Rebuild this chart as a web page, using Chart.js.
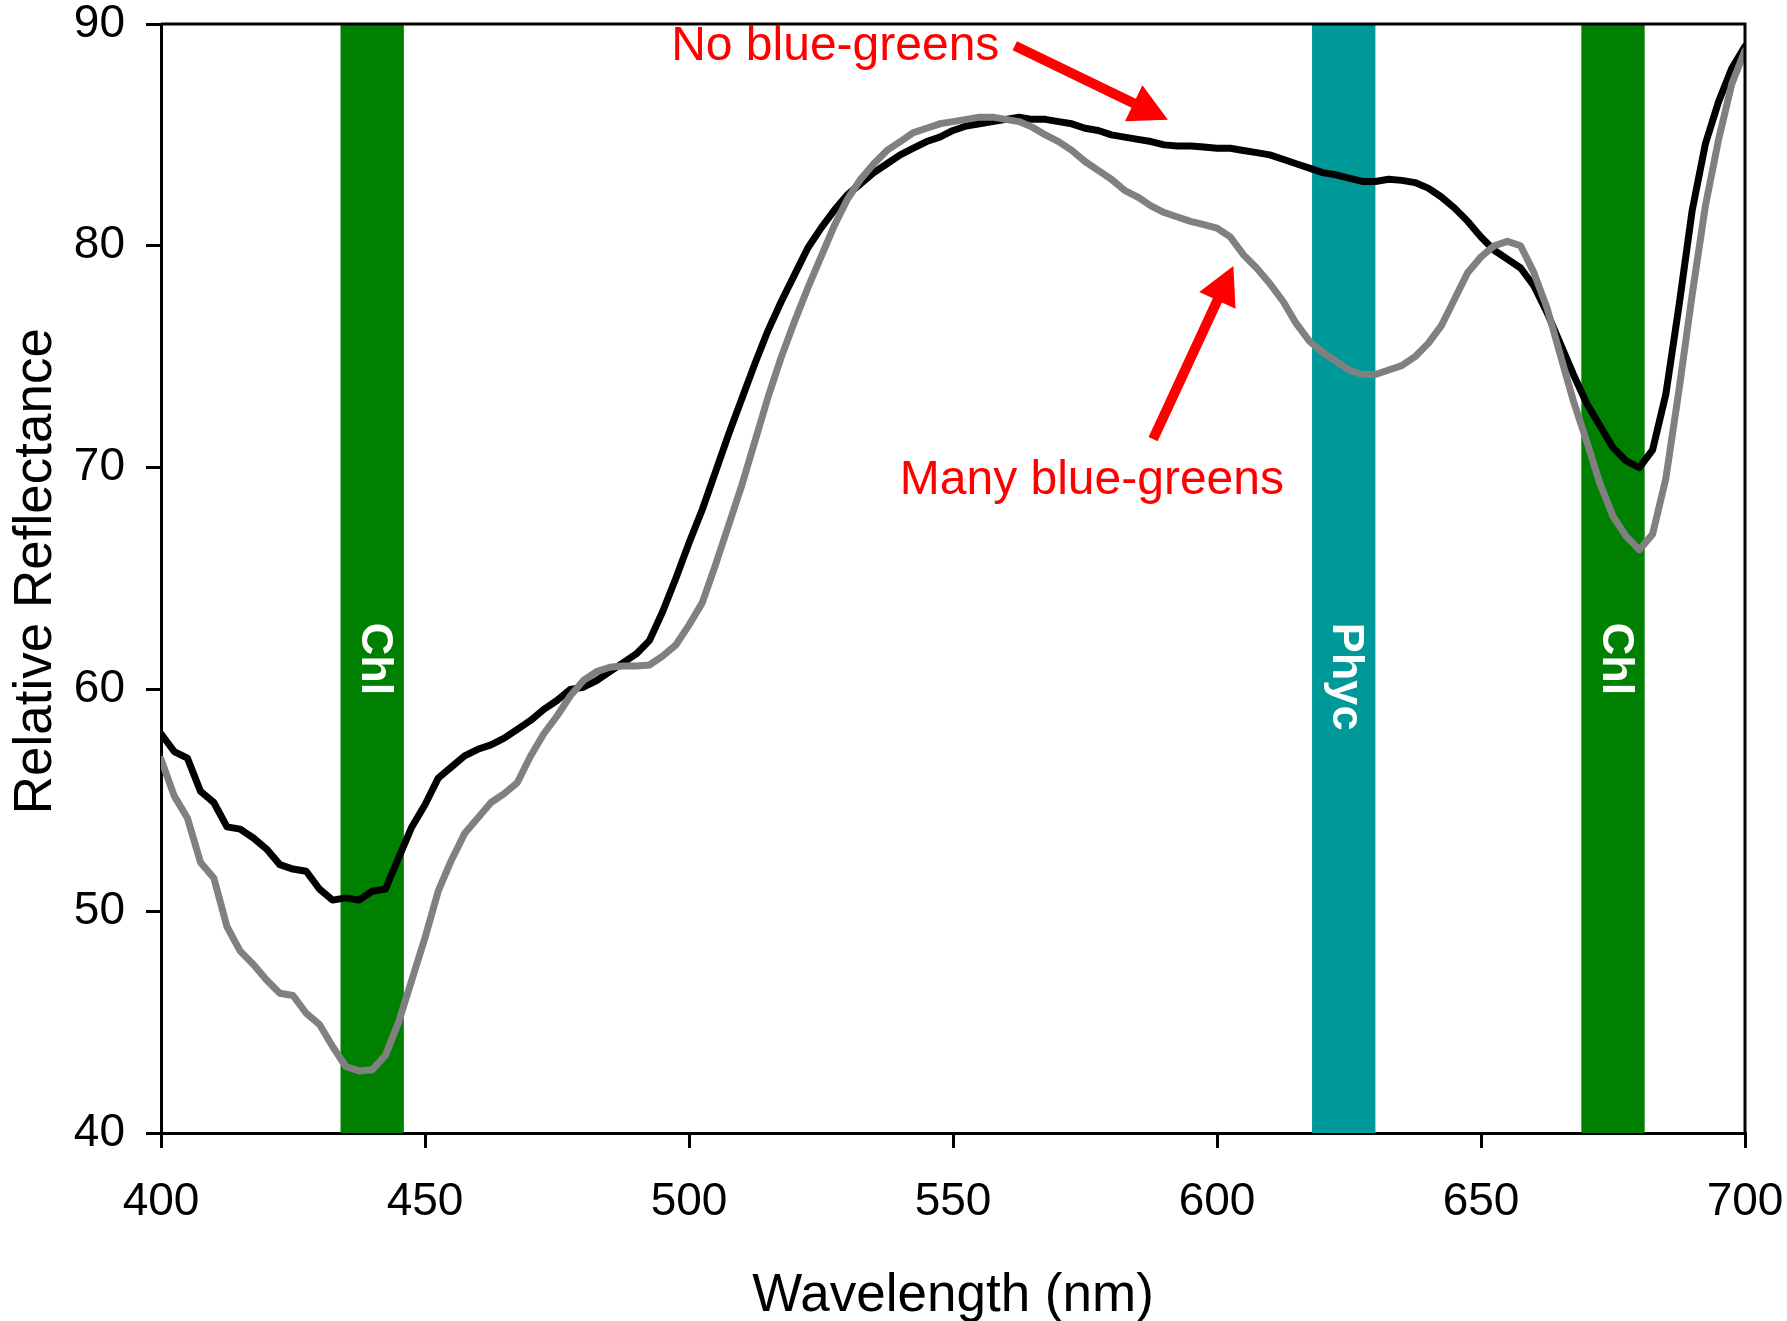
<!DOCTYPE html>
<html>
<head>
<meta charset="utf-8">
<script src="https://cdn.jsdelivr.net/npm/chart.js@4.4.1/dist/chart.umd.min.js"></script>
<style>
  html, body { margin: 0; padding: 0; background: #fff; }
  #wrap { width: 1787px; height: 1321px; position: relative; }
</style>
</head>
<body>
<div id="wrap"><canvas id="c"></canvas></div>
<script>
// ---- Data ----
const wavelengths = [
  400, 402.5, 405, 407.5, 410, 412.5, 415, 417.5, 420, 422.5,
  425, 427.5, 430, 432.5, 435, 437.5, 440, 442.5, 445, 447.5,
  450, 452.5, 455, 457.5, 460, 462.5, 465, 467.5, 470, 472.5,
  475, 477.5, 480, 482.5, 485, 487.5, 490, 492.5, 495, 497.5,
  500, 502.5, 505, 507.5, 510, 512.5, 515, 517.5, 520, 522.5,
  525, 527.5, 530, 532.5, 535, 537.5, 540, 542.5, 545, 547.5,
  550, 552.5, 555, 557.5, 560, 562.5, 565, 567.5, 570, 572.5,
  575, 577.5, 580, 582.5, 585, 587.5, 590, 592.5, 595, 597.5,
  600, 602.5, 605, 607.5, 610, 612.5, 615, 617.5, 620, 622.5,
  625, 627.5, 630, 632.5, 635, 637.5, 640, 642.5, 645, 647.5,
  650, 652.5, 655, 657.5, 660, 662.5, 665, 667.5, 670, 672.5,
  675, 677.5, 680, 682.5, 685, 687.5, 690, 692.5, 695, 697.5,
  700
];

const noBlueGreens = [
  58.0, 57.2, 56.9, 55.4, 54.9, 53.8, 53.7, 53.3, 52.8, 52.1,
  51.9, 51.8, 51.0, 50.5, 50.6, 50.5, 50.9, 51.0, 52.4, 53.8,
  54.8, 56.0, 56.5, 57.0, 57.3, 57.5, 57.8, 58.2, 58.6, 59.1,
  59.5, 60.0, 60.1, 60.4, 60.8, 61.2, 61.6, 62.2, 63.5, 65.0,
  66.6, 68.1, 69.8, 71.5, 73.1, 74.7, 76.2, 77.5, 78.7, 79.9,
  80.8, 81.6, 82.3, 82.8, 83.3, 83.7, 84.1, 84.4, 84.7, 84.9,
  85.2, 85.4, 85.5, 85.6, 85.7, 85.8, 85.7, 85.7, 85.6, 85.5,
  85.3, 85.2, 85.0, 84.9, 84.8, 84.7, 84.55, 84.5, 84.5, 84.45,
  84.4, 84.4, 84.3, 84.2, 84.1, 83.9, 83.7, 83.5, 83.3, 83.2,
  83.05, 82.9, 82.9, 83.0, 82.95, 82.85, 82.6, 82.2, 81.7, 81.1,
  80.4, 79.8, 79.4, 79.0, 78.2, 77.0, 75.6, 74.2, 72.9, 71.9,
  70.9, 70.3, 70.0, 70.8, 73.3, 77.3, 81.6, 84.6, 86.5, 88.0,
  89.0
];

const manyBlueGreens = [
  56.85, 55.2, 54.2, 52.2, 51.5, 49.3, 48.2, 47.6, 46.9, 46.3,
  46.2, 45.4, 44.9, 43.9, 43.0, 42.8, 42.85, 43.5, 45.0, 46.9,
  48.8, 50.9, 52.3, 53.5, 54.2, 54.9, 55.3, 55.8, 57.0, 58.0,
  58.8, 59.7, 60.4, 60.8, 61.0, 61.05, 61.05, 61.1, 61.5, 62.0,
  62.9, 63.9, 65.6, 67.4, 69.2, 71.2, 73.2, 75.0, 76.6, 78.1,
  79.5, 80.9, 82.1, 83.0, 83.7, 84.3, 84.7, 85.1, 85.3, 85.5,
  85.6, 85.7, 85.8, 85.8, 85.7, 85.6, 85.35, 85.0, 84.7, 84.3,
  83.8, 83.4, 83.0, 82.5, 82.2, 81.8, 81.5, 81.3, 81.1, 80.95,
  80.8, 80.4, 79.6, 79.0, 78.3, 77.5, 76.5, 75.7, 75.2, 74.8,
  74.4, 74.2, 74.2, 74.4, 74.6, 75.0, 75.6, 76.4, 77.6, 78.8,
  79.5, 80.0, 80.2, 80.0, 78.8, 77.2, 75.1, 73.0, 71.2, 69.3,
  67.8, 66.9, 66.3, 67.0, 69.5, 73.5, 77.8, 81.8, 84.8, 87.3,
  88.8
];

// Absorption bands (nm)
const bandLabels = ['Chl', 'Phyc', 'Chl'];
const bandStart  = [434, 618, 669];
const bandEnd    = [446, 630, 681];

// Axis tick settings
const xTickMin = 400, xTickMax = 700, xTickStep = 50;
const yTickMin = 40,  yTickMax = 90,  yTickStep = 10;

// ---- Styles / annotation positions (in data units) ----
const bandColors = ['#008000', '#009999', '#008000'];
const bandLabelTop = 63;   // reflectance where the rotated label begins
const annotations = [
  { text: 'No blue-greens',   at: [527.7, 88.96], tail: [561.7, 89.02], tip: [590.7, 85.68] },
  { text: 'Many blue-greens', at: [576.3, 69.4],  tail: [587.9, 71.28], tip: [603.1, 79.09] }
];
const FONT = '"Liberation Sans", Arial, sans-serif';

const bandsPlugin = {
  id: 'bands',
  beforeDatasetsDraw(chart) {
    const {ctx, chartArea: a, scales: {x, y}} = chart;
    ctx.save();
    bandStart.forEach((s, i) => {
      const x0 = x.getPixelForValue(s), x1 = x.getPixelForValue(bandEnd[i]);
      ctx.fillStyle = bandColors[i];
      ctx.fillRect(x0, a.top, x1 - x0, a.bottom - a.top);
      ctx.save();
      ctx.translate((x0 + x1) / 2 + 2, y.getPixelForValue(bandLabelTop));
      ctx.rotate(Math.PI / 2);
      ctx.fillStyle = '#ffffff';
      ctx.font = 'bold 45px ' + FONT;
      ctx.textAlign = 'left';
      ctx.textBaseline = 'middle';
      ctx.fillText(bandLabels[i], 0, 0);
      ctx.restore();
    });
    ctx.restore();
  }
};

function drawArrow(ctx, x0, y0, x1, y1, shaftW, headL, headW) {
  const dx = x1 - x0, dy = y1 - y0;
  const len = Math.hypot(dx, dy);
  const ux = dx / len, uy = dy / len;
  const nx = -uy, ny = ux;
  const bx = x1 - ux * headL, by = y1 - uy * headL;
  ctx.beginPath();
  ctx.moveTo(x0 + nx * shaftW / 2, y0 + ny * shaftW / 2);
  ctx.lineTo(bx + nx * shaftW / 2, by + ny * shaftW / 2);
  ctx.lineTo(bx + nx * headW / 2, by + ny * headW / 2);
  ctx.lineTo(x1, y1);
  ctx.lineTo(bx - nx * headW / 2, by - ny * headW / 2);
  ctx.lineTo(bx - nx * shaftW / 2, by - ny * shaftW / 2);
  ctx.lineTo(x0 - nx * shaftW / 2, y0 - ny * shaftW / 2);
  ctx.closePath();
  ctx.fill();
}

const annotPlugin = {
  id: 'annot',
  afterDatasetsDraw(chart) {
    const {ctx, chartArea: a, scales: {x, y}} = chart;
    ctx.save();
    // frame (top + right)
    ctx.strokeStyle = '#000';
    ctx.lineWidth = 3;
    ctx.beginPath();
    ctx.moveTo(a.left, a.top);
    ctx.lineTo(a.right, a.top);
    ctx.lineTo(a.right, a.bottom);
    ctx.stroke();
    ctx.fillStyle = '#ff0000';
    ctx.font = '48px ' + FONT;
    ctx.textAlign = 'center';
    ctx.textBaseline = 'middle';
    annotations.forEach(an => {
      ctx.fillText(an.text, x.getPixelForValue(an.at[0]), y.getPixelForValue(an.at[1]));
      drawArrow(ctx,
        x.getPixelForValue(an.tail[0]), y.getPixelForValue(an.tail[1]),
        x.getPixelForValue(an.tip[0]), y.getPixelForValue(an.tip[1]),
        10, 38, 40);
    });
    ctx.restore();
  }
};

const toPts = arr => wavelengths.map((w, i) => ({x: w, y: arr[i]}));

new Chart(document.getElementById('c'), {
  type: 'line',
  data: {
    datasets: [
      { label: 'Many blue-greens', data: toPts(manyBlueGreens), borderColor: '#808080',
        borderWidth: 7, pointRadius: 0, tension: 0, order: 0, borderJoinStyle: 'round', borderCapStyle: 'round' },
      { label: 'No blue-greens', data: toPts(noBlueGreens), borderColor: '#000000',
        borderWidth: 7, pointRadius: 0, tension: 0, order: 1, borderJoinStyle: 'round', borderCapStyle: 'round' }
    ]
  },
  options: {
    responsive: true,
    maintainAspectRatio: false,
    animation: false,
    events: [],
    layout: { padding: { left: 0, right: 42, top: 24, bottom: 0 } },
    plugins: { legend: { display: false }, tooltip: { enabled: false } },
    scales: {
      x: {
        type: 'linear', min: xTickMin, max: xTickMax,
        ticks: { stepSize: xTickStep, color: '#000', padding: 27, maxRotation: 0,
                 font: { family: FONT, size: 46 } },
        grid: { display: true, drawOnChartArea: false, drawTicks: true, tickLength: 15, color: '#000', lineWidth: 3 },
        border: { display: true, color: '#000', width: 3 },
        title: { display: true, text: 'Wavelength (nm)', color: '#000',
                 font: { family: FONT, size: 53, lineHeight: 1 }, padding: { top: 0, bottom: -2 } },
        afterFit(s) { s.height = 188; s.paddingLeft = 0; s.paddingRight = 0; }
      },
      y: {
        type: 'linear', min: yTickMin, max: yTickMax,
        ticks: { stepSize: yTickStep, color: '#000', padding: 21,
                 font: { family: FONT, size: 46 } },
        grid: { display: true, drawOnChartArea: false, drawTicks: true, tickLength: 15, color: '#000', lineWidth: 3 },
        border: { display: true, color: '#000', width: 3 },
        title: { display: true, text: ' Relative Reflectance', color: '#000',
                 font: { family: FONT, size: 53, lineHeight: 1 }, padding: { top: 10, bottom: 0 } },
        afterFit(s) { s.width = 161; s.paddingTop = 0; s.paddingBottom = 0; }
      }
    }
  },
  plugins: [bandsPlugin, annotPlugin]
});
</script>
</body>
</html>
